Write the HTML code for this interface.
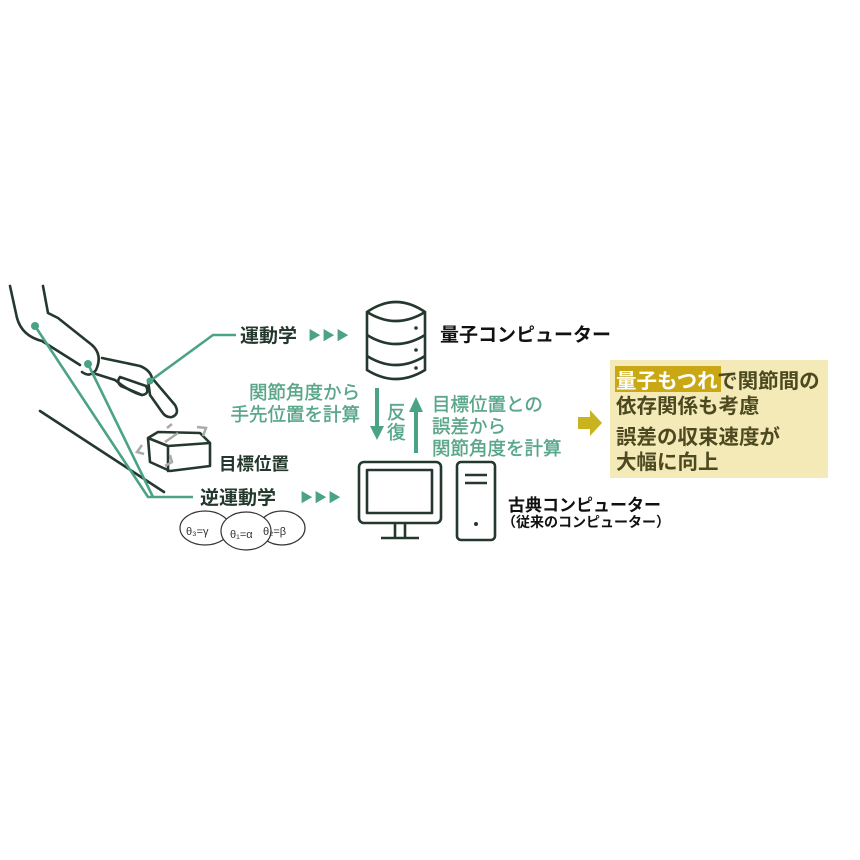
<!DOCTYPE html>
<html><head><meta charset="utf-8"><style>
html,body{margin:0;padding:0;background:#fff;}
svg{display:block;}
text{font-family:"Liberation Sans","Noto Sans CJK JP",sans-serif;}
</style></head><body>
<svg width="860" height="860" viewBox="0 0 860 860" xmlns="http://www.w3.org/2000/svg">
<rect width="860" height="860" fill="#fff"/>
<g fill="none" stroke="#24382e" stroke-width="2.6" stroke-linecap="round" stroke-linejoin="round">
 <path d="M10,286 L17,318 Q22,336 42,341 L80,365"/>
 <path d="M43,286 L48,313 L58,318 L92,345 Q103,355 96,370 Q90,378 82,372"/>
 <path d="M102,358 L140,366 Q150,370 152,378 L175,405 Q180,414 172,417 Q166,418 162,412 L150,395 L148,380"/>
 <path d="M96,374 L115,380 Q130,392 142,395 Q150,394 146,386"/>
 <path d="M146,386 L120,377 Q116,382 121,386 L142,395"/>
 <path d="M40,411 L164,492"/>
 <path d="M148,438 L158,432 L200,433 L210,443 L210,466 L170,471 L150,462 Z M148,438 L168,446 L210,443 M168,446 L168,471"/>
</g>
<g fill="none" stroke="#aaa" stroke-width="2.5">
 <path d="M167,428 L172,424 M178,433 L165,442 M197,427 L206,428 L203,436"/>
 <path d="M142,445 L137,452 L144,454 M170,455 L172,462 L165,466"/>
</g>
<g fill="none" stroke="#4aa384" stroke-width="2.6">
 <path d="M35,326 L148,497 L193,497"/>
 <path d="M88,364 L153,497"/>
 <path d="M150,381 L213,335 L236,335"/>
</g>
<circle cx="35" cy="326" r="4" fill="#4aa384"/>
<circle cx="88" cy="364" r="4" fill="#4aa384"/>
<circle cx="150" cy="381" r="3.5" fill="#4aa384"/>

<text x="240" y="342" font-size="19" font-weight="bold" fill="#24382e">運動学</text>
<text x="308" y="340" font-size="13" fill="#4aa384" letter-spacing="1">▶▶▶</text>
<text x="200" y="504" font-size="19" font-weight="bold" fill="#24382e">逆運動学</text>
<text x="300" y="502" font-size="13" fill="#4aa384" letter-spacing="1">▶▶▶</text>
<text x="219" y="470" font-size="17.5" font-weight="bold" fill="#24382e">目標位置</text>

<g fill="#fff" stroke="#333" stroke-width="1.2">
 <ellipse cx="205" cy="528" rx="25" ry="17"/>
 <ellipse cx="282" cy="528" rx="23" ry="17"/>
 <ellipse cx="246" cy="531" rx="25" ry="19"/>
</g>
<g font-size="11" fill="#333">
 <text x="186" y="535">θ₃=γ</text>
 <text x="230" y="538">θ₁=α</text>
 <text x="263" y="535">θ₂=β</text>
</g>

<g fill="none" stroke="#24382e" stroke-width="2.6">
 <path d="M367,312 Q396,292 425,312 L425,370 Q396,388 367,370 Z"/>
 <path d="M367,312 Q396,330 425,312"/>
 <path d="M367,335 Q396,353 425,335"/>
 <path d="M367,356 Q396,374 425,356"/>
</g>
<g fill="#24382e"><circle cx="416" cy="328" r="1.8"/><circle cx="416" cy="350" r="1.8"/><circle cx="416" cy="368" r="1.8"/></g>
<text x="440" y="341" font-size="19" font-weight="bold" fill="#111">量子コンピューター</text>

<g font-size="18.5" fill="#5aa68a" stroke="#5aa68a" stroke-width="0.4">
 <text x="360" y="399" text-anchor="end">関節角度から</text>
 <text x="360" y="421" text-anchor="end">手先位置を計算</text>
 <text x="432" y="411">目標位置との</text>
 <text x="432" y="433">誤差から</text>
 <text x="432" y="455">関節角度を計算</text>
 <text x="387" y="419">反</text>
 <text x="387" y="439">復</text>
</g>
<g fill="#4aa384" stroke="#4aa384">
 <line x1="377" y1="388" x2="377" y2="428" stroke-width="4"/>
 <path d="M370,426 L384,426 L377,440 Z" stroke="none"/>
 <line x1="416" y1="453" x2="416" y2="410" stroke-width="4"/>
 <path d="M409,412 L423,412 L416,397 Z" stroke="none"/>
</g>

<g fill="none" stroke="#24382e" stroke-width="2.6" stroke-linejoin="round">
 <rect x="359" y="462" width="82" height="61" rx="5"/>
 <rect x="367" y="470" width="65" height="43"/>
 <path d="M395,523 L395,537 M405,523 L405,537 M381,538 L419,538"/>
 <rect x="457" y="462" width="38" height="78" rx="4"/>
 <path d="M465,475 L487,475 M465,483 L487,483"/>
</g>
<circle cx="476" cy="524" r="2" fill="#24382e"/>
<text x="508" y="511" font-size="17" font-weight="bold" fill="#111">古典コンピューター</text>
<text x="502" y="527" font-size="14" font-weight="bold" fill="#111">（従来のコンピューター）</text>

<path d="M578,417 L590,417 L590,410 L602,423 L590,436 L590,429 L578,429 Z" fill="#c9b420"/>

<rect x="610" y="360" width="218" height="118" fill="#f3eab8"/>
<rect x="615" y="366" width="106" height="26" fill="#c9a814"/>
<g font-size="20.5" font-weight="bold" fill="#4c4820">
 <text x="616" y="388"><tspan fill="#fff">量子もつれ</tspan>で関節間の</text>
 <text x="616" y="413">依存関係も考慮</text>
 <text x="616" y="444">誤差の収束速度が</text>
 <text x="616" y="469">大幅に向上</text>
</g>
</svg>
</body></html>
